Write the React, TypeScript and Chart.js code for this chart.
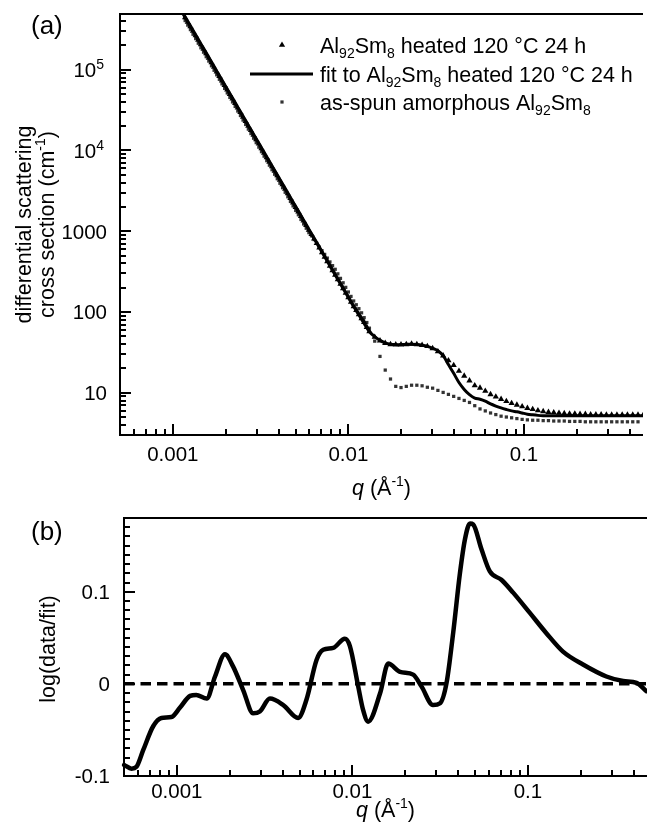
import React, { useEffect, useRef } from 'react';
import { Chart, registerables } from 'chart.js';

Chart.register(...registerables);

// ---------- Panel (a): measured points, q in Å^-1 ----------
const Q_DATA = [
  0.001175, 0.001216, 0.001259, 0.001303, 0.001349, 0.001396, 0.001445, 0.001496, 0.001549, 0.001603,
  0.00166, 0.001718, 0.001778, 0.001841, 0.001905, 0.001972, 0.002042, 0.002113, 0.002188, 0.002265,
  0.002344, 0.002427, 0.002512, 0.0026, 0.002692, 0.002786, 0.002884, 0.002985, 0.00309, 0.003199,
  0.003311, 0.003428, 0.003548, 0.003673, 0.003802, 0.003936, 0.004074, 0.004217, 0.004365, 0.004519,
  0.004677, 0.004842, 0.005012, 0.005188, 0.00537, 0.005559, 0.005754, 0.005957, 0.006166, 0.006383,
  0.006607, 0.006839, 0.007079, 0.007328, 0.007586, 0.007852, 0.008128, 0.008414, 0.00871, 0.009016,
  0.009333, 0.009661, 0.01, 0.01035, 0.01072, 0.01109, 0.01148, 0.01189, 0.0123, 0.01274,
  0.01318, 0.01413, 0.01514, 0.01622, 0.01738, 0.01862, 0.01995, 0.02138, 0.02291, 0.02455,
  0.0263, 0.02818, 0.0302, 0.03236, 0.03467, 0.03715, 0.03981, 0.04266, 0.04571, 0.04898,
  0.05248, 0.05623, 0.06026, 0.06457, 0.06918, 0.07413, 0.07943, 0.08511, 0.0912, 0.09772,
  0.1047, 0.1122, 0.1202, 0.1288, 0.138, 0.1479, 0.1585, 0.1698, 0.182, 0.195,
  0.2089, 0.2239, 0.2399, 0.257, 0.2754, 0.2951, 0.3162, 0.3388, 0.3631, 0.389,
  0.4169, 0.4467, 0.4786,
];

// Al92Sm8 heated 120 °C 24 h (triangles), cm^-1
const HEATED = [
  445000, 391000, 344000, 302000, 266000, 234000, 205000, 181000, 159000, 140000,
  123000, 108000, 94800, 83400, 73300, 64400, 56600, 49800, 43800, 38500,
  33800, 29700, 26100, 23000, 20200, 17800, 15600, 13700, 12100, 10600,
  9330, 8200, 7210, 6340, 5570, 4900, 4310, 3790, 3330, 2930,
  2570, 2260, 1990, 1750, 1540, 1350, 1190, 1040, 918, 807,
  709, 624, 548, 482, 424, 372, 327, 288, 253, 222,
  196, 172, 151, 133, 117, 105, 93, 83, 75, 65,
  57.5, 49, 44.2, 41.2, 39.8, 39.4, 39.4, 39.8, 40.3, 39.8,
  38.9, 37.6, 35.5, 32.4, 28.8, 25.1, 21.9, 18.6, 16.2, 14.1,
  12.3, 11.5, 10.5, 9.55, 8.91, 8.32, 7.85, 7.41, 7.08, 6.76,
  6.46, 6.24, 6.03, 5.89, 5.75, 5.69, 5.62, 5.56, 5.5, 5.5,
  5.43, 5.43, 5.37, 5.37, 5.37, 5.31, 5.31, 5.31, 5.31, 5.31,
  5.31, 5.31, 5.31,
];

// as-spun amorphous Al92Sm8 (small squares), cm^-1
const AS_SPUN = [
  406000, 357000, 314000, 275000, 243000, 213000, 187000, 165000, 145000, 128000,
  112000, 98500, 86500, 76100, 66800, 58700, 51600, 45400, 39900, 35100,
  30800, 27100, 23800, 21000, 18400, 16200, 14200, 12500, 11000, 9670,
  8510, 7480, 6580, 5780, 5080, 4470, 3930, 3460, 3040, 2670,
  2340, 2060, 1810, 1600, 1400, 1230, 1090, 960, 877, 789,
  709, 638, 574, 517, 465, 417, 375, 338, 297, 261,
  230, 202, 177, 156, 137, 123, 110, 97.7, 85.1, 74.1,
  63.1, 43.6, 28.2, 19.1, 14.8, 12.0, 11.6, 12.0, 12.4, 12.4,
  12.2, 11.7, 11.4, 10.7, 10.1, 9.55, 9.02, 8.51, 8.04, 7.59,
  6.92, 6.31, 5.96, 5.62, 5.37, 5.13, 5.01, 4.9, 4.79, 4.68,
  4.62, 4.57, 4.57, 4.52, 4.52, 4.47, 4.47, 4.47, 4.42, 4.42,
  4.42, 4.37, 4.37, 4.37, 4.37, 4.37, 4.37, 4.37, 4.37, 4.37,
  4.37, 4.37, null,
];

// fit to Al92Sm8 heated 120 °C 24 h (solid line)
const Q_FIT = [
  0.001096, 0.001175, 0.001259, 0.001349, 0.001445, 0.001549, 0.00166, 0.001778, 0.001905, 0.002042,
  0.002188, 0.002344, 0.002512, 0.002692, 0.002884, 0.00309, 0.003311, 0.003548, 0.003802, 0.004074,
  0.004365, 0.004677, 0.005012, 0.00537, 0.005754, 0.006166, 0.006607, 0.007079, 0.007586, 0.008128,
  0.00871, 0.009333, 0.01, 0.01072, 0.01148, 0.0123, 0.01318, 0.01413, 0.01514, 0.01622,
  0.01738, 0.01862, 0.01995, 0.02138, 0.02291, 0.02455, 0.0263, 0.02818, 0.0302, 0.03236,
  0.03467, 0.03715, 0.03981, 0.04266, 0.04571, 0.04898, 0.05248, 0.05623, 0.06026, 0.06457,
  0.06918, 0.07413, 0.07943, 0.08511, 0.0912, 0.09772, 0.1047, 0.1122, 0.1202, 0.1288,
  0.138, 0.1479, 0.1585, 0.1698, 0.182, 0.195, 0.2089, 0.2239, 0.2399, 0.257,
  0.2754, 0.2951, 0.3162, 0.3388, 0.3631, 0.389, 0.4169, 0.4467, 0.4786,
];
const FIT = [
  575000, 445000, 344000, 266000, 205000, 159000, 123000, 94800, 73300, 56600,
  43800, 33800, 26100, 20200, 15600, 12100, 9330, 7210, 5570, 4300,
  3330, 2570, 1990, 1540, 1190, 918, 710, 548, 424, 327,
  253, 195, 151, 117, 92, 72, 57, 49.5, 44.5, 41.5,
  40, 39.5, 39.5, 39.8, 40, 39.6, 38.8, 37.5, 35.5, 33.1,
  28.8, 22.4, 17.4, 13.4, 11.0, 9.48, 8.61, 8.32, 7.87, 7.28,
  6.85, 6.49, 6.21, 5.97, 5.81, 5.62, 5.43, 5.33, 5.25, 5.2,
  5.18, 5.18, 5.18, 5.18, 5.18, 5.18, 5.18, 5.18, 5.18, 5.18,
  5.18, 5.18, 5.18, 5.18, 5.18, 5.18, 5.18, 5.18, 5.18,
];

// ---------- Panel (b): residual log(data/fit) ----------
const Q_RES = [
  0.000501, 0.000552, 0.000589, 0.000643, 0.000733, 0.000817, 0.000931, 0.00104, 0.00119, 0.00129,
  0.00148, 0.00165, 0.00188, 0.00209, 0.00239, 0.00272, 0.00297, 0.00339, 0.00404, 0.00491,
  0.00548, 0.00625, 0.00682, 0.00778, 0.00906, 0.00968, 0.0108, 0.0115, 0.0123, 0.0144,
  0.016, 0.0187, 0.0222, 0.0248, 0.0288, 0.0316, 0.0344, 0.0375, 0.041, 0.0438,
  0.0468, 0.0488, 0.0544, 0.0607, 0.0706, 0.0824, 0.1026, 0.1274, 0.1585, 0.206,
  0.28, 0.349, 0.416, 0.474,
];
const RESIDUAL = [
  -0.088, -0.092, -0.09, -0.072, -0.046, -0.037, -0.036, -0.026, -0.013, -0.012,
  -0.016, 0.008, 0.032, 0.019, -0.007, -0.032, -0.03, -0.016, -0.023, -0.037,
  -0.017, 0.026, 0.037, 0.039, 0.049, 0.041, -0.003, -0.028, -0.041, -0.01,
  0.022, 0.013, 0.01, -0.003, -0.023, -0.021, 0.001, 0.055, 0.12, 0.157,
  0.174, 0.173, 0.146, 0.122, 0.113, 0.099, 0.077, 0.055, 0.035, 0.021,
  0.008, 0.003, 0.001, -0.008,
];

// ---------- axes ----------
const X_MIN = 0.0005;
const X_MAX = 0.477;
const X_MAJOR = [0.001, 0.01, 0.1];
const X_LABELS = ['0.001', '0.01', '0.1'];
const YA_MIN = 3;
const YA_MAX = 4.9e5;
const YA_MAJOR = [10, 100, 1000, 1e4, 1e5];
const YA_LABELS = [['10'], ['100'], ['1000'], ['10', '4'], ['10', '5']];
const YB_MIN = -0.1;
const YB_MAX = 0.18;
const YB_MAJOR = [-0.1, 0, 0.1];
const YB_LABELS = ['-0.1', '0', '0.1'];

const FONT = '"Liberation Sans", Arial, Helvetica, sans-serif';
const TICK_SIZE = 20.5;
const TITLE_SIZE = 21.5;
const PANEL_SIZE = 26;

type Part = { t: string; mode?: 'sub' | 'sup'; italic?: boolean };

function partFont(p: Part, size: number) {
  const s = p.mode ? Math.round(size * 0.66) : size;
  return `${p.italic ? 'italic ' : ''}${s}px ${FONT}`;
}

function drawRich(ctx: CanvasRenderingContext2D, parts: Part[], x: number, y: number, size: number, align: 'left' | 'center' | 'right') {
  ctx.textBaseline = 'alphabetic';
  ctx.textAlign = 'left';
  const widths = parts.map((p) => {
    ctx.font = partFont(p, size);
    return ctx.measureText(p.t).width;
  });
  const total = widths.reduce((a, b) => a + b, 0);
  let cx = align === 'left' ? x : align === 'center' ? x - total / 2 : x - total;
  parts.forEach((p, i) => {
    ctx.font = partFont(p, size);
    const dy = p.mode === 'sub' ? size * 0.24 : p.mode === 'sup' ? -size * 0.4 : 0;
    ctx.fillText(p.t, cx, y + dy);
    cx += widths[i];
  });
}

function logMinor(min: number, max: number) {
  const out: number[] = [];
  for (let d = Math.floor(Math.log10(min)); d <= Math.ceil(Math.log10(max)); d++) {
    for (let m = 2; m <= 9; m++) {
      const v = m * Math.pow(10, d);
      if (v > min * 1.0001 && v < max * 0.9999) out.push(v);
    }
  }
  return out;
}

function drawFrame(chart: any, xMaj: number[], xMin: number[], yMaj: number[], yMin: number[], labelGap: number) {
  const { ctx, chartArea: a } = chart;
  const xs = chart.scales.x;
  const ys = chart.scales.y;
  ctx.save();
  ctx.strokeStyle = '#000';
  ctx.lineWidth = 2;
  ctx.beginPath();
  ctx.moveTo(a.left, a.top);
  ctx.lineTo(a.right, a.top);
  ctx.moveTo(a.left, a.top - 1);
  ctx.lineTo(a.left, a.bottom + 1);
  ctx.moveTo(a.left - 1, a.bottom);
  ctx.lineTo(a.right, a.bottom);
  ctx.stroke();
  ctx.beginPath();
  xMaj.forEach((v) => {
    const px = Math.round(xs.getPixelForValue(v));
    ctx.moveTo(px, a.bottom);
    ctx.lineTo(px, a.bottom - 11);
  });
  xMin.forEach((v) => {
    const px = Math.round(xs.getPixelForValue(v));
    ctx.moveTo(px, a.bottom);
    ctx.lineTo(px, a.bottom - 6);
  });
  yMaj.forEach((v) => {
    const py = Math.round(ys.getPixelForValue(v));
    ctx.moveTo(a.left, py);
    ctx.lineTo(a.left + 11, py);
  });
  yMin.forEach((v) => {
    const py = Math.round(ys.getPixelForValue(v));
    ctx.moveTo(a.left, py);
    ctx.lineTo(a.left + 6, py);
  });
  ctx.stroke();

  ctx.fillStyle = '#000';
  xMaj.forEach((v, i) => {
    const px = xs.getPixelForValue(v);
    drawRich(ctx, [{ t: X_LABELS[i] }], px, a.bottom + labelGap, TICK_SIZE, 'center');
  });
  ctx.restore();
}

const SUBSCRIPT_NAME: Part[] = [{ t: 'Al' }, { t: '92', mode: 'sub' }, { t: 'Sm' }, { t: '8', mode: 'sub' }];

const topPlugin = {
  id: 'topFrame',
  afterDraw(chart: any) {
    const { ctx, chartArea: a } = chart;
    const ys = chart.scales.y;
    drawFrame(chart, X_MAJOR, logMinor(X_MIN, X_MAX), YA_MAJOR, logMinor(YA_MIN, YA_MAX), 26);
    ctx.save();
    ctx.fillStyle = '#000';
    YA_MAJOR.forEach((v, i) => {
      const py = ys.getPixelForValue(v);
      const lab = YA_LABELS[i];
      const base = py + TICK_SIZE * 0.36;
      if (lab.length === 1) drawRich(ctx, [{ t: lab[0] }], 107, base, TICK_SIZE, 'right');
      else drawRich(ctx, [{ t: lab[0] }, { t: lab[1], mode: 'sup' }], 104, base, TICK_SIZE, 'right');
    });
    drawRich(ctx, [{ t: '(a)' }], 31, 33.5, PANEL_SIZE, 'left');
    const cx = (a.left + a.right) / 2;
    drawRich(ctx, [{ t: 'q', italic: true }, { t: ' (Å' }, { t: '-1', mode: 'sup' }, { t: ')' }], cx, 495, TITLE_SIZE, 'center');
    const cy = (a.top + a.bottom) / 2;
    ctx.save();
    ctx.translate(31, cy);
    ctx.rotate(-Math.PI / 2);
    drawRich(ctx, [{ t: 'differential scattering' }], 0, 0, TITLE_SIZE, 'center');
    ctx.restore();
    ctx.save();
    ctx.translate(54, cy);
    ctx.rotate(-Math.PI / 2);
    drawRich(ctx, [{ t: 'cross section (cm' }, { t: '-1', mode: 'sup' }, { t: ')' }], 0, 0, TITLE_SIZE, 'center');
    ctx.restore();

    // legend
    const mx = 282;
    const tx = 320;
    const rows = [45, 74, 102];
    const off = TITLE_SIZE * 0.36;
    const r = 3.6;
    ctx.beginPath();
    ctx.moveTo(mx, rows[0] - r);
    ctx.lineTo(mx + r * 0.866, rows[0] + r * 0.5);
    ctx.lineTo(mx - r * 0.866, rows[0] + r * 0.5);
    ctx.closePath();
    ctx.fill();
    drawRich(ctx, [...SUBSCRIPT_NAME, { t: ' heated 120 °C 24 h' }], tx, rows[0] + off, TITLE_SIZE, 'left');
    ctx.strokeStyle = '#000';
    ctx.lineWidth = 3;
    ctx.beginPath();
    ctx.moveTo(250, rows[1]);
    ctx.lineTo(313, rows[1]);
    ctx.stroke();
    drawRich(ctx, [{ t: 'fit to ' }, ...SUBSCRIPT_NAME, { t: ' heated 120 °C 24 h' }], tx, rows[1] + off, TITLE_SIZE, 'left');
    ctx.fillStyle = '#333';
    ctx.fillRect(mx - 1.6, rows[2] - 1.6, 3.2, 3.2);
    ctx.fillStyle = '#000';
    drawRich(ctx, [{ t: 'as-spun amorphous ' }, ...SUBSCRIPT_NAME], tx, rows[2] + off, TITLE_SIZE, 'left');
    ctx.restore();
  },
};

const bottomPlugin = {
  id: 'bottomFrame',
  afterDraw(chart: any) {
    const { ctx, chartArea: a } = chart;
    const ys = chart.scales.y;
    const yMinor: number[] = [];
    for (let k = -9; k <= 18; k++) if (k !== 0 && k !== 10) yMinor.push(k / 100);
    drawFrame(chart, X_MAJOR, logMinor(X_MIN, X_MAX), YB_MAJOR, yMinor, 21.5);
    ctx.save();
    ctx.fillStyle = '#000';
    YB_MAJOR.forEach((v, i) => {
      const py = ys.getPixelForValue(v);
      drawRich(ctx, [{ t: YB_LABELS[i] }], 110, py + TICK_SIZE * 0.36, TICK_SIZE, 'right');
    });
    drawRich(ctx, [{ t: '(b)' }], 31, 34.5, PANEL_SIZE, 'left');
    const cx = (a.left + a.right) / 2;
    drawRich(ctx, [{ t: 'q', italic: true }, { t: ' (Å' }, { t: '-1', mode: 'sup' }, { t: ')' }], cx, 312, TITLE_SIZE, 'center');
    ctx.save();
    ctx.translate(55, 144);
    ctx.rotate(-Math.PI / 2);
    drawRich(ctx, [{ t: 'log(data/fit)' }], 0, 0, TITLE_SIZE, 'center');
    ctx.restore();
    ctx.restore();
  },
};

function pts(xs: number[], ys: (number | null)[]) {
  const out: { x: number; y: number }[] = [];
  xs.forEach((x, i) => {
    const y = ys[i];
    if (y !== null && y !== undefined) out.push({ x, y });
  });
  return out;
}

export default function App() {
  const topRef = useRef<HTMLCanvasElement>(null);
  const botRef = useRef<HTMLCanvasElement>(null);

  useEffect(() => {
    const top = new Chart(topRef.current as HTMLCanvasElement, {
      type: 'scatter',
      data: {
        datasets: [
          {
            label: 'fit to Al92Sm8 heated 120 °C 24 h',
            data: pts(Q_FIT, FIT),
            showLine: true,
            borderColor: '#000',
            borderWidth: 3,
            pointRadius: 0,
            tension: 0.3,
            clip: 0,
          },
          {
            label: 'Al92Sm8 heated 120 °C 24 h',
            data: pts(Q_DATA, HEATED),
            showLine: false,
            pointStyle: 'triangle',
            pointRadius: 3.6,
            pointBorderWidth: 0,
            pointBackgroundColor: '#000',
            clip: 0,
          },
          {
            label: 'as-spun amorphous Al92Sm8',
            data: pts(Q_DATA, AS_SPUN),
            showLine: false,
            pointStyle: 'rect',
            pointRadius: 2.3,
            pointBorderWidth: 0,
            pointBackgroundColor: '#333',
            clip: 0,
          },
        ] as any,
      },
      options: {
        animation: false,
        responsive: false,
        devicePixelRatio: 1,
        events: [],
        layout: { padding: { left: 120, top: 14, right: 0, bottom: 70 } },
        plugins: { legend: { display: false }, tooltip: { enabled: false } },
        scales: {
          x: { type: 'logarithmic', min: X_MIN, max: X_MAX, display: false },
          y: { type: 'logarithmic', min: YA_MIN, max: YA_MAX, display: false },
        },
      } as any,
      plugins: [topPlugin],
    });

    const bottom = new Chart(botRef.current as HTMLCanvasElement, {
      type: 'scatter',
      data: {
        datasets: [
          {
            label: 'log(data/fit)',
            data: pts(Q_RES, RESIDUAL),
            showLine: true,
            borderColor: '#000',
            borderWidth: 4.5,
            borderJoinStyle: 'round',
            borderCapStyle: 'round',
            pointRadius: 0,
            cubicInterpolationMode: 'monotone',
            clip: 3,
          },
          {
            label: 'zero',
            data: [
              { x: X_MIN, y: 0 },
              { x: X_MAX, y: 0 },
            ],
            showLine: true,
            borderColor: '#000',
            borderWidth: 3.5,
            borderDash: [10.5, 6],
            pointRadius: 0,
            clip: 0,
          },
        ] as any,
      },
      options: {
        animation: false,
        responsive: false,
        devicePixelRatio: 1,
        events: [],
        layout: { padding: { left: 124, top: 13, right: 0, bottom: 47 } },
        plugins: { legend: { display: false }, tooltip: { enabled: false } },
        scales: {
          x: { type: 'logarithmic', min: X_MIN, max: X_MAX, display: false },
          y: { type: 'linear', min: YB_MIN, max: YB_MAX, display: false },
        },
      } as any,
      plugins: [bottomPlugin],
    });

    return () => {
      top.destroy();
      bottom.destroy();
    };
  }, []);

  return (
    <div style={{ position: 'absolute', left: 0, top: 0, width: 647, height: 823, background: '#fff', overflow: 'hidden' }}>
      <canvas ref={topRef} width={647} height={505} style={{ position: 'absolute', left: 0, top: 0, width: 647, height: 505 }} />
      <canvas ref={botRef} width={647} height={318} style={{ position: 'absolute', left: 0, top: 505, width: 647, height: 318 }} />
    </div>
  );
}
